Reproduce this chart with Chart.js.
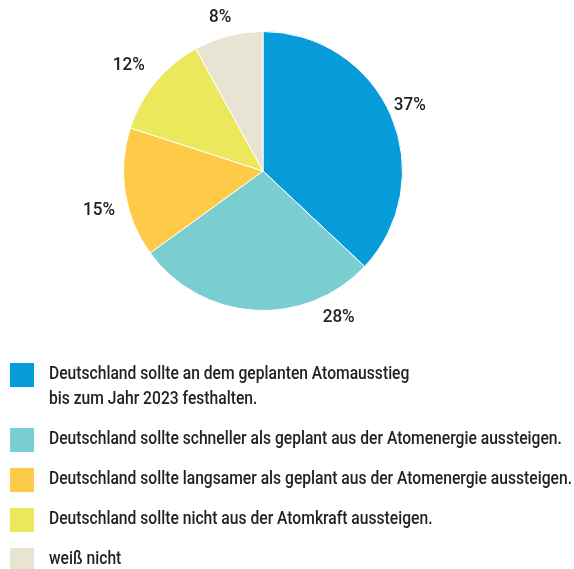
<!DOCTYPE html>
<html>
<head>
<meta charset="utf-8">
<script src="https://cdn.jsdelivr.net/npm/chart.js@4/dist/chart.umd.min.js"></script>
<style>
html,body{margin:0;padding:0;background:#fff;}
#wrap{position:relative;width:574px;height:569px;}
</style>
</head>
<body>
<div id="wrap"><canvas id="c" width="574" height="569"></canvas></div>
<script>
const categories = [
  "Deutschland sollte an dem geplanten Atomausstieg\nbis zum Jahr 2023 festhalten.",
  "Deutschland sollte schneller als geplant aus der Atomenergie aussteigen.",
  "Deutschland sollte langsamer als geplant aus der Atomenergie aussteigen.",
  "Deutschland sollte nicht aus der Atomkraft aussteigen.",
  "weiß nicht"
];
const values = [37, 28, 15, 12, 8];
const valueLabels = ["37%", "28%", "15%", "12%", "8%"];
const colors = ["#069cd9", "#7acdd0", "#fecb48", "#ebe85b", "#e7e4d4"];

const FONT = 'Roboto, "DejaVu Sans Condensed", sans-serif';

function drawCondensed(ctx, text, x, y, sx, align) {
  ctx.save();
  ctx.translate(x, y);
  ctx.scale(sx, 1);
  ctx.textAlign = align;
  ctx.fillText(text, 0, 0);
  ctx.restore();
}

const labelPlugin = {
  id: 'pctLabels',
  afterDatasetsDraw(chart, args, opts) {
    const ctx = chart.ctx;
    const meta = chart.getDatasetMeta(0);
    ctx.save();
    ctx.font = opts.font;
    ctx.fillStyle = opts.color;
    ctx.textBaseline = 'middle';
    const sx = opts.refWidth / ctx.measureText(opts.refText).width;
    meta.data.forEach((arc, i) => {
      const p = arc.getProps(['x','y','startAngle','endAngle','outerRadius'], true);
      const mid = (p.startAngle + p.endAngle) / 2 + (opts.angleShift[i] || 0) * Math.PI / 180;
      const r = p.outerRadius + opts.gap[i];
      drawCondensed(ctx, valueLabels[i], p.x + Math.cos(mid) * r, p.y + Math.sin(mid) * r, sx, 'center');
    });
    ctx.restore();
  }
};

const legendPlugin = {
  id: 'customLegend',
  afterDraw(chart, args, opts) {
    const ctx = chart.ctx;
    ctx.save();
    ctx.font = opts.font;
    ctx.textBaseline = 'alphabetic';
    const sx = opts.refWidth / ctx.measureText(categories[opts.refIndex]).width;
    let y = opts.top;
    categories.forEach((cat, i) => {
      const lines = cat.split("\n");
      ctx.fillStyle = colors[i];
      ctx.fillRect(opts.x, y, opts.box, opts.box);
      ctx.fillStyle = opts.color;
      lines.forEach((ln, j) => {
        drawCondensed(ctx, ln, opts.textX, y + opts.baseline + j * opts.lineHeight, sx, 'left');
      });
      y += opts.rowGap + (lines.length - 1) * opts.lineHeight;
    });
    ctx.restore();
  }
};

new Chart(document.getElementById('c'), {
  type: 'pie',
  data: {
    labels: categories,
    datasets: [{
      data: values,
      backgroundColor: colors,
      borderColor: '#ffffff',
      borderWidth: 1
    }]
  },
  options: {
    responsive: false,
    animation: false,
    events: [],
    layout: { padding: { left: 123, top: 31, right: 171, bottom: 258 } },
    plugins: {
      legend: { display: false },
      tooltip: { enabled: false },
      pctLabels: {
        font: '500 18px ' + FONT,
        color: '#222222',
        refText: '37%', refWidth: 32,
        angleShift: [-0.5, -31, -4.4, -1.5, -1.2],
        gap: [21, 25, 29, 31, 20]
      },
      customLegend: {
        x: 10, box: 24, textX: 49, top: 363,
        baseline: 16, lineHeight: 25, rowGap: 40,
        refIndex: 2, refWidth: 523,
        font: '500 18px ' + FONT, color: '#222222'
      }
    }
  },
  plugins: [labelPlugin, legendPlugin]
});
</script>
</body>
</html>
